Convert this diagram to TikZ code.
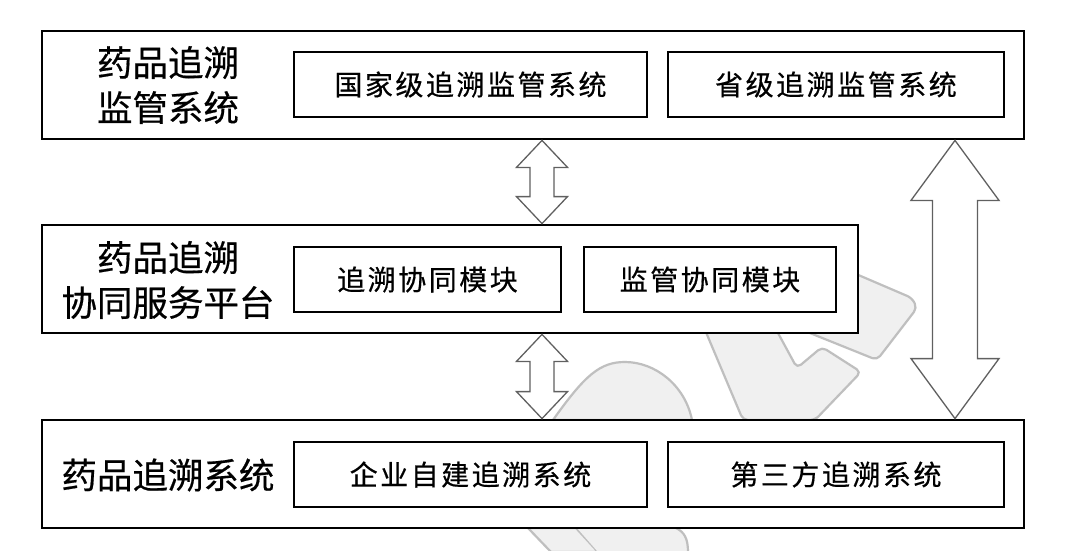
\documentclass[tikz,border=0pt]{standalone}
\usepackage{fontspec}
\newfontfamily\cjk[FakeBold=0.5]{Noto Sans CJK SC}
\usetikzlibrary{calc}
\newcommand{\dblblock}[5]{%
  \draw[blockarrow] let \p1=(#1), \p2=(#2) in
   (\x1,\y1) -- (\x1+#3pt,\y1-#5pt) -- (\x1+#4pt,\y1-#5pt) -- (\x1+#4pt,\y2+#5pt)
   -- (\x1+#3pt,\y2+#5pt) -- (\x2,\y2) -- (\x1-#3pt,\y2+#5pt) -- (\x1-#4pt,\y2+#5pt)
   -- (\x1-#4pt,\y1-#5pt) -- (\x1-#3pt,\y1-#5pt) -- cycle;}
\begin{document}
\begin{tikzpicture}[x=1pt,y=-1pt,
  outerbox/.style={draw=black, line width=2.8pt, fill=white, rectangle, inner sep=0pt, minimum height=108pt},
  innerbox/.style={draw=black, line width=2.2pt, fill=white, rectangle, inner sep=0pt, minimum height=65pt,
     font=\cjk\fontsize{28}{30}\selectfont\addfontfeature{LetterSpace=9}},
  lefttext/.style={font=\cjk\fontsize{35.5}{45}\selectfont, align=center, inner sep=0pt},
  blockarrow/.style={draw=gray!75!black, line width=1.3pt, fill=white, line join=miter},
  wm/.style={fill=gray!12, draw=gray!50, line width=2.2pt, line join=round, rounded corners=5pt}
]
\useasboundingbox (0,0) rectangle (1080,550);
\fill[white] (0,0) rectangle (1080,550);

% faint watermark in the background
\path[wm] (800,250) -- (912,298) -- (917,308) -- (877,360) -- (790,325) -- cycle;
\path[wm] (700,318) -- (743,420) -- (815,420) -- (861,372) -- (822,347) -- (797,368) -- (778,333) -- (770,318) -- cycle;
\path[wm, rounded corners=0pt] (553,420) .. controls (585,375) and (600,362) .. (625,362)
      .. controls (655,362) and (685,385) .. (692,420) -- cycle;
\path[wm, rounded corners=0pt] (528,528) -- (576,528) -- (598,552) -- (551,552) -- cycle;
\fill[gray!12] (577,528) -- (676,528) -- (686,538) -- (688,552) -- (598,552) -- cycle;
\draw[gray!50, line width=2.2pt] (676,528) .. controls (684,532) and (688,538) .. (688,552);

% outer boxes
\node[outerbox, minimum width=982pt] (top) at (533,85) {};
\node[outerbox, minimum width=816pt] (mid) at (450,279) {};
\node[outerbox, minimum width=982pt] (bot) at (533,474) {};

% inner boxes
\node[innerbox, minimum width=353pt] (t1) at (470.5,84.5) {国家级追溯监管系统};
\node[innerbox, minimum width=336pt] (t2) at (836,84.5) {省级追溯监管系统};
\node[innerbox, minimum width=267pt] (m1) at (427.5,279.5) {追溯协同模块};
\node[innerbox, minimum width=252pt] (m2) at (710,279.5) {监管协同模块};
\node[innerbox, minimum width=353pt] (b1) at (470.5,474.5) {企业自建追溯系统};
\node[innerbox, minimum width=336pt] (b2) at (836,474.5) {第三方追溯系统};

% left labels
\node[lefttext] (tl) at (168,85) {药品追溯\\监管系统};
\node[lefttext] (ml) at (168,280) {药品追溯\\协同服务平台};
\node[lefttext] (bl) at (168,475) {药品追溯系统};

% double block arrows
\coordinate (ax1) at (542,0);
\coordinate (ax2) at (955,0);
\dblblock{ax1 |- top.south}{ax1 |- mid.north}{25.5}{12}{27}
\dblblock{ax1 |- mid.south}{ax1 |- bot.north}{25.5}{12}{27}
\dblblock{ax2 |- top.south}{ax2 |- bot.north}{44}{22.5}{60}
\end{tikzpicture}
\end{document}
